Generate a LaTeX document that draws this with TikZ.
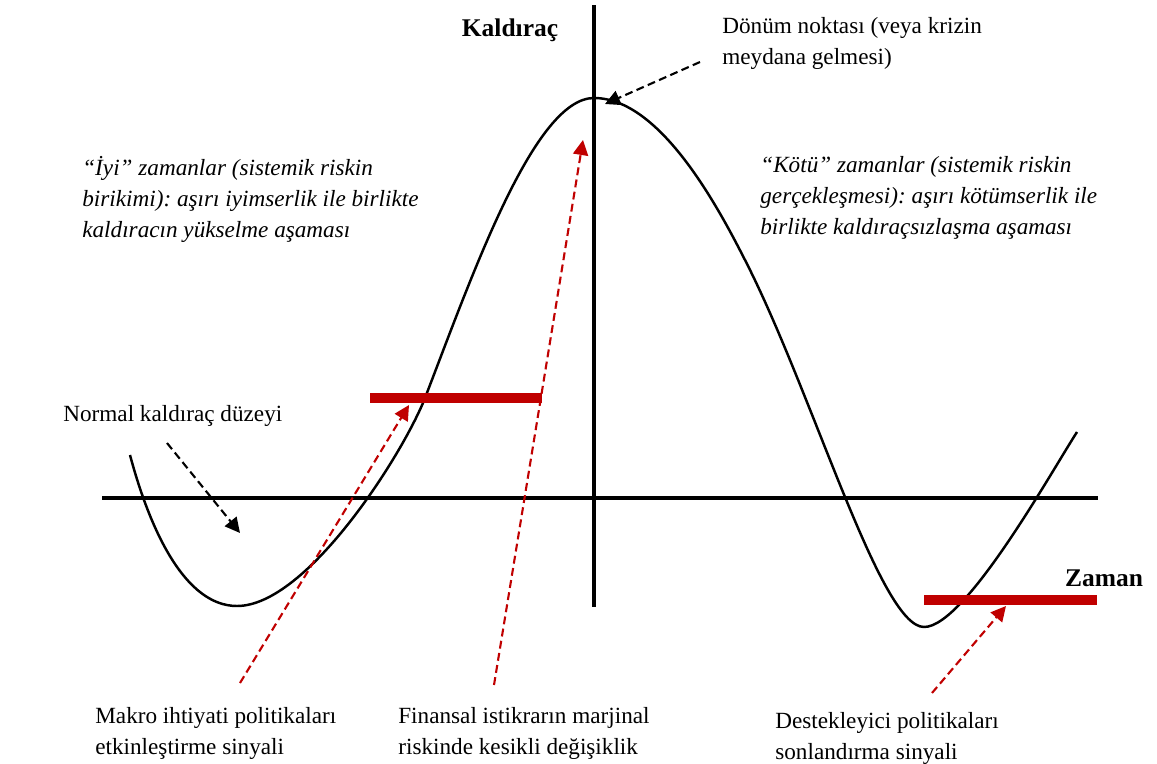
\documentclass[tikz,border=0pt]{standalone}
\usepackage{fontspec}
\setmainfont{Liberation Serif}
\usetikzlibrary{arrows.meta}

\definecolor{barred}{HTML}{C00000}

\tikzstyle{axis}=[line width=2.8pt]
\tikzstyle{lev}=[line width=1.4pt, line join=round]
\tikzstyle{bar}=[line width=6.2pt, barred]
\tikzstyle{pnt}=[dash pattern=on 4.5pt off 2.5pt, line width=1.2pt, -{Triangle[length=3mm,width=3mm]}]
\tikzstyle{sig}=[pnt, barred]
\tikzstyle{lbl}=[inner sep=0pt, align=left, anchor=north west, font=\fontsize{13.2}{17.6}\selectfont]
\tikzstyle{ttl}=[inner sep=0pt, font=\fontsize{14.5}{16}\selectfont\bfseries]

\begin{document}
\frenchspacing
\begin{tikzpicture}[x=0.02cm, y=-0.02cm]
        \useasboundingbox (0,0) rectangle (1157,764);

        % axes
        \draw[axis] (594,5) -- (594,607);
        \draw[axis] (102,498) -- (1098,498);
        \draw (510,30) node[ttl](lev){Kaldıraç};
        \draw (1104,578) node[ttl](time){Zaman};

        % leverage cycle
        \draw[lev] (130,455) .. controls (150,530) and (185,606) .. (237,606)
            .. controls (307,606) and (403,454) .. (425,398)
            .. controls (472,276) and (534,98) .. (594,98)
            .. controls (660,98) and (718,207) .. (745,260)
            .. controls (813,393) and (880,627) .. (924,627)
            .. controls (965,627) and (1050,474) .. (1077,432);

        % policy bars
        \draw[bar] (370,398) -- (542,398);
        \draw[bar] (924,600) -- (1097,600);

        % texts
        \draw (722,17) node[lbl](peak){Dönüm noktası (veya krizin\\meydana gelmesi)};
        \draw (82,156) node[lbl](good){\itshape “İyi” zamanlar (sistemik riskin\\\itshape birikimi): aşırı iyimserlik ile birlikte\\\itshape kaldıracın yükselme aşaması};
        \draw (760,156) node[lbl](bad){\itshape “Kötü” zamanlar (sistemik riskin\\\itshape gerçekleşmesi): aşırı kötümserlik ile\\\itshape birlikte kaldıraçsızlaşma aşaması};
        \draw (63,405) node[lbl](norm){Normal kaldıraç düzeyi};
        \draw (95,707) node[lbl](macro){Makro ihtiyati politikaları\\etkinleştirme sinyali};
        \draw (398,707) node[lbl](marg){Finansal istikrarın marjinal\\riskinde kesikli değişiklik};
        \draw (775,712) node[lbl](supp){Destekleyici politikaları\\sonlandırma sinyali};

        % arrow ends
        \coordinate (peakS) at (700,62);
        \coordinate (peakT) at (605,104);
        \coordinate (normS) at (167,443);
        \coordinate (normT) at (240,533);
        \coordinate (macroS) at (240,683);
        \coordinate (macroT) at (409,405);
        \coordinate (margS) at (494,685);
        \coordinate (margT) at (583,140);
        \coordinate (suppS) at (932,693);
        \coordinate (suppT) at (1006,606);

        \draw[pnt] (peakS) -- (peakT);
        \draw[pnt] (normS) -- (normT);
        \draw[sig] (macroS) -- (macroT);
        \draw[sig] (margS) -- (margT);
        \draw[sig] (suppS) -- (suppT);
\end{tikzpicture}
\end{document}
